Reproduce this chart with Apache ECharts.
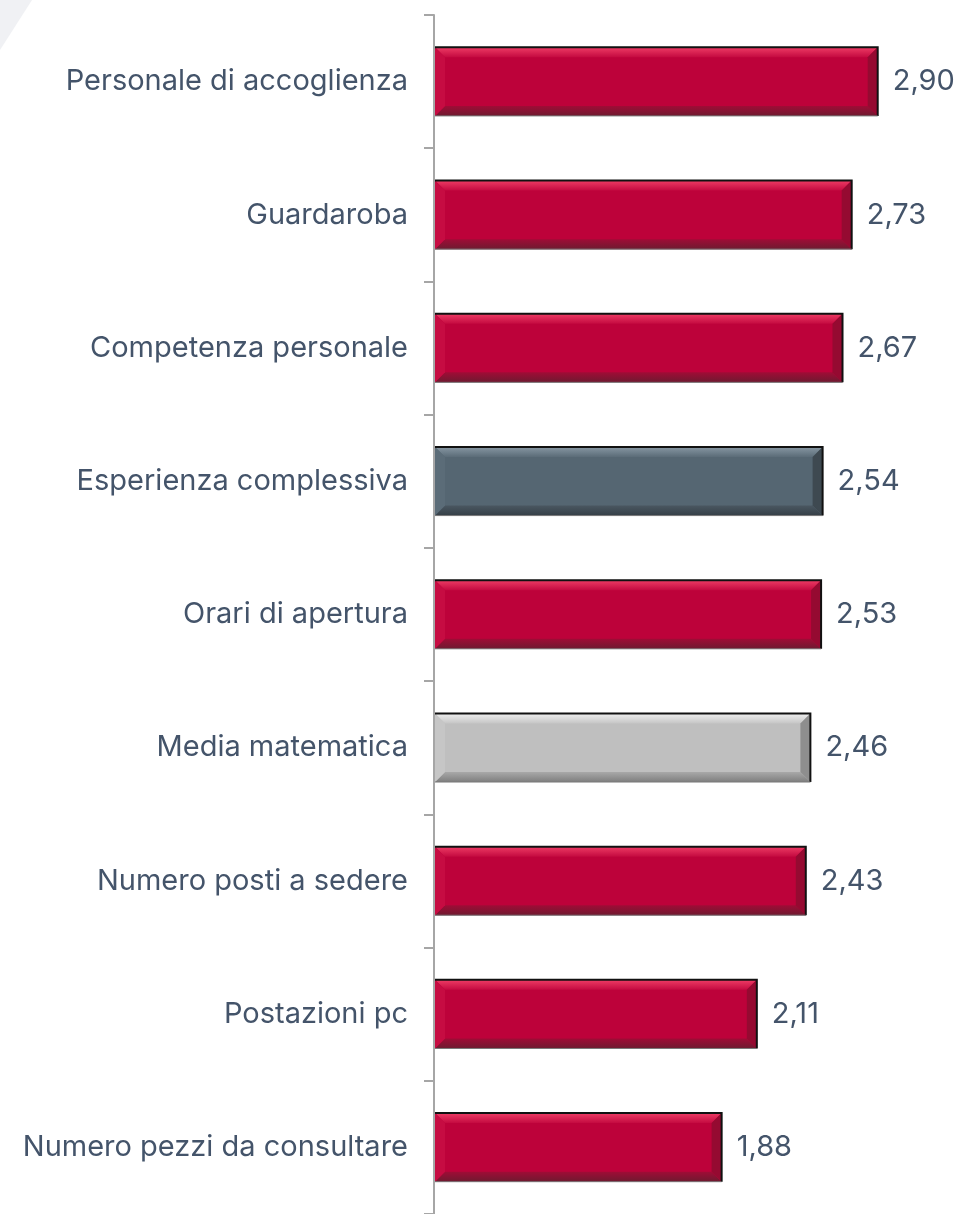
<!DOCTYPE html>
<html>
<head>
<meta charset="utf-8">
<script src="https://cdn.jsdelivr.net/npm/echarts@6/dist/echarts.min.js"></script>
<style>
  html, body { margin: 0; padding: 0; background: #fff; }
  #chart { width: 956px; height: 1214px; }
</style>
</head>
<body>
<div id="chart"></div>
<script>
const categories = [
  'Personale di accoglienza',
  'Guardaroba',
  'Competenza personale',
  'Esperienza complessiva',
  'Orari di apertura',
  'Media matematica',
  'Numero posti a sedere',
  'Postazioni pc',
  'Numero pezzi da consultare'
]
const values = [2.90, 2.73, 2.67, 2.54, 2.53, 2.46, 2.43, 2.11, 1.88]

// bevel colours per bar style
const palettes = {
  red: { base: '#bd023a', top: ['#ee3c65', '#c40a40'], bottom: ['#a00c36', '#6e1a30'], left: '#c60c42', right: '#950a31' },
  slate: { base: '#556672', top: ['#8797a3', '#5b6c78'], bottom: ['#4a5761', '#353f47'], left: '#5b6c78', right: '#3e4951' },
  silver: { base: '#bfbfbf', top: ['#efefef', '#c6c6c6'], bottom: ['#a8a8a8', '#7e7e7e'], left: '#c6c6c6', right: '#8e8e8e' }
}
const styleOf = name => name === 'Esperienza complessiva' ? 'slate' : name === 'Media matematica' ? 'silver' : 'red'

const textColor = '#44546a'
const fontFamily = 'Inter, "Noto Sans", sans-serif'
const fontSize = 29

const chart = echarts.init(document.getElementById('chart'))

const vGrad = (c0, c1) => ({
  type: 'linear', x: 0, y: 0, x2: 0, y2: 1,
  colorStops: [{ offset: 0, color: c0 }, { offset: 1, color: c1 }]
})

const renderBar = (params, api) => {
  const idx = api.value(1)
  const val = api.value(0)
  const start = api.coord([0, idx])
  const end = api.coord([val, idx])
  const band = api.size([0, 1])[1]
  const h = band * 0.515
  const x0 = start[0] + 1, x1 = end[0]
  const y0 = start[1] - h / 2, y1 = start[1] + h / 2
  const b = 10
  const p = palettes[styleOf(categories[idx])]
  return {
    type: 'group',
    children: [
      { type: 'rect', shape: { x: x0, y: y0, width: x1 - x0, height: h }, style: { fill: p.base } },
      { type: 'polygon', shape: { points: [[x0, y0], [x1, y0], [x1 - b, y0 + b], [x0 + b, y0 + b]] }, style: { fill: vGrad(p.top[0], p.top[1]) } },
      { type: 'polygon', shape: { points: [[x0, y1], [x1, y1], [x1 - b, y1 - b], [x0 + b, y1 - b]] }, style: { fill: vGrad(p.bottom[0], p.bottom[1]) } },
      { type: 'polygon', shape: { points: [[x0, y0], [x0 + b, y0 + b], [x0 + b, y1 - b], [x0, y1]] }, style: { fill: p.left } },
      { type: 'polygon', shape: { points: [[x1, y0], [x1, y1], [x1 - b, y1 - b], [x1 - b, y0 + b]] }, style: { fill: p.right } },
      { type: 'polyline', shape: { points: [[x0, y0], [x1, y0], [x1, y1]] }, style: { stroke: '#111', lineWidth: 2, fill: null } },
      { type: 'line', shape: { x1: x0, y1: y1, x2: x1, y2: y1 }, style: { stroke: '#7a7a7a', lineWidth: 1 } },
      {
        type: 'text',
        x: x1 + 15, y: start[1],
        style: {
          text: val.toFixed(2).replace('.', ','),
          fill: textColor, font: fontSize + 'px ' + fontFamily,
          align: 'left', verticalAlign: 'middle'
        }
      }
    ]
  }
}

chart.setOption({
  backgroundColor: '#fff',
  animation: false,
  graphic: [{
    type: 'polygon', z: -1,
    shape: { points: [[0, 0], [32, 0], [0, 50]] },
    style: { fill: '#f0f1f4' }
  }],
  grid: { left: 434, right: 63, top: 15, height: 1206 },
  xAxis: { type: 'value', min: 0, max: 3, show: false },
  yAxis: {
    type: 'category',
    inverse: true,
    data: categories,
    axisLine: { show: true, lineStyle: { color: '#a6a6a6', width: 2 } },
    axisTick: { show: true, length: 10, lineStyle: { color: '#a6a6a6', width: 2 } },
    axisLabel: { margin: 26, color: textColor, fontSize: fontSize, fontFamily: fontFamily }
  },
  series: [{
    type: 'custom',
    renderItem: renderBar,
    encode: { x: 0, y: 1 },
    data: values.map((v, i) => [v, i])
  }]
})
</script>
</body>
</html>
